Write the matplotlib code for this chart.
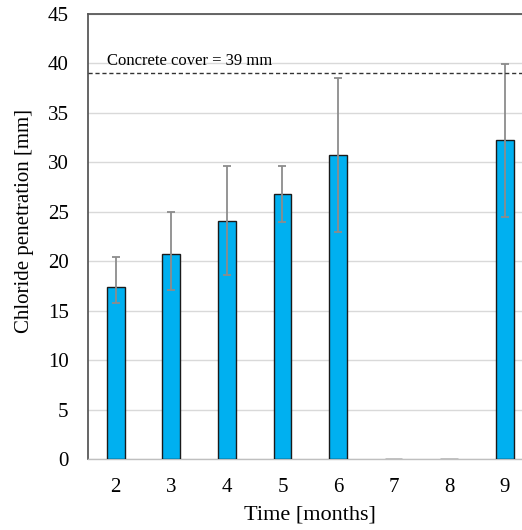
import matplotlib.pyplot as plt
import numpy as np

plt.rcParams['font.family'] = ['Liberation Serif', 'DejaVu Serif']

# data
months = ['2', '3', '4', '5', '6', '7', '8', '9']
penetration = [17.4, 20.7, 24.1, 26.8, 30.7, 0, 0, 32.3]
err_upper = [20.4, 25.0, 29.6, 29.6, 38.5, np.nan, np.nan, 39.9]
err_lower = [15.8, 17.1, 18.6, 24.0, 23.0, np.nan, np.nan, 24.5]
cover = 39

x = np.arange(len(months))
vals = np.array(penetration)
yerr = [vals - np.array(err_lower), np.array(err_upper) - vals]

fig = plt.figure(figsize=(5.22, 5.30), dpi=100)
# plot area runs off the right edge, like the cropped original
ax = fig.add_axes([0.1686, 0.134, 1.02 - 0.1686, 0.9736 - 0.134])

ax.bar(x, penetration, width=0.32, color='#00B0F0', edgecolor='#1a1a1a',
       linewidth=1.0, zorder=3)
ax.errorbar(x, penetration, yerr=yerr, fmt='none', ecolor='#8c8c8c',
            elinewidth=1.3, capsize=3, capthick=1.3, zorder=4)

ax.axhline(cover, color='#333333', linestyle=(0, (3, 2)), linewidth=1.0, zorder=5)
ax.text(-0.15, cover + 0.4, 'Concrete cover = 39 mm', fontsize=12,
        ha='left', va='bottom', zorder=6)

ax.set_xlim(-0.5, len(months) - 0.5)
ax.set_ylim(0, 45)
ax.set_yticks(range(0, 46, 5))
ax.set_xticks(x)
ax.set_xticklabels(months)
ax.yaxis.grid(True, color='#d9d9d9', linewidth=1.0, zorder=0)
ax.set_axisbelow(True)
ax.tick_params(axis='both', length=0, labelsize=15)
ax.tick_params(axis='x', pad=14)
ax.tick_params(axis='y', pad=14)

for side in ['left', 'top', 'right']:
    ax.spines[side].set_color('#595959')
    ax.spines[side].set_linewidth(1.3)
ax.spines['bottom'].set_color('#bfbfbf')
ax.spines['bottom'].set_linewidth(1.0)

ax.set_xlabel('Time [months]', fontsize=16, labelpad=6)
ax.set_ylabel('Chloride penetration [mm]', fontsize=15)
ax.yaxis.set_label_coords(-0.122, 0.535)

fig.savefig('out.png', dpi=100)
